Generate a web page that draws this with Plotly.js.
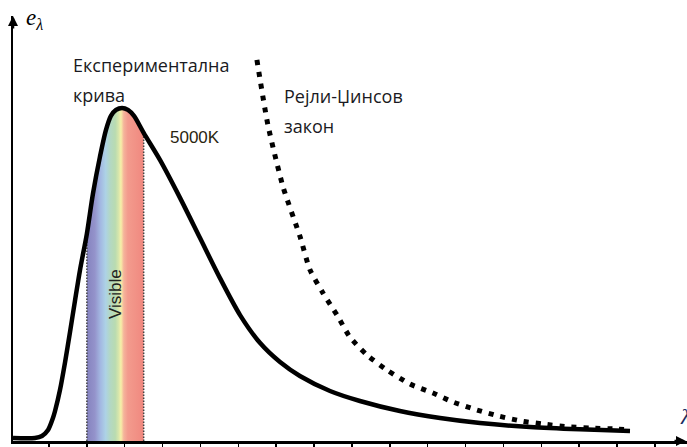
<!DOCTYPE html>
<html>
<head>
<meta charset="utf-8">
<script src="https://cdn.plot.ly/plotly-3.0.1.min.js"></script>
<style>html,body{margin:0;padding:0;background:#fff;}#chart{width:687px;height:447px;}</style>
</head>
<body>
<div id="chart"></div>
<script>
// Experimental curve (5000K), wavelength in nm, intensity relative to peak
const lamExp = [10, 126, 163, 195, 221, 232, 258, 285, 311, 337, 364, 400, 432, 469, 501, 527, 554, 586, 617, 649, 700, 786, 892, 997, 1103, 1209, 1315, 1420, 1525, 1684, 1842, 2053, 2265, 2476, 2740, 3003, 3268];
const eExp   = [0.009, 0.009, 0.015, 0.033, 0.069, 0.090, 0.153, 0.237, 0.327, 0.420, 0.514, 0.622, 0.742, 0.853, 0.934, 0.976, 0.994, 1.000, 0.994, 0.976, 0.925, 0.844, 0.730, 0.610, 0.489, 0.378, 0.294, 0.237, 0.195, 0.150, 0.120, 0.090, 0.069, 0.054, 0.042, 0.035, 0.030];
// Rayleigh-Jeans law
const lamRJ = [1298, 1356, 1436, 1526, 1578, 1647, 1721, 1789, 1879, 1985, 2106, 2228, 2333, 2460, 2581, 2703, 2809, 2935, 3057, 3199, 3268];
const eRJ   = [1.144, 0.949, 0.763, 0.613, 0.514, 0.444, 0.378, 0.312, 0.258, 0.213, 0.171, 0.144, 0.117, 0.093, 0.074, 0.059, 0.051, 0.043, 0.039, 0.036, 0.033];
// axis ticks and visible band
const ticks = [200, 400, 600, 800, 1000, 1200, 1400, 1600, 1800, 2000, 2200, 2400, 2600, 2800, 3000, 3200, 3400];
const visible = [400, 700];
const labels = {exp1: 'Експериментална', exp2: 'крива', rj1: 'Рејли-Џинсов', rj2: 'закон', temp: '5000K', vis: 'Visible'};

const bandX = [], bandY = [];
lamExp.forEach((l, i) => { if (l >= visible[0] && l <= visible[1]) { bandX.push(l); bandY.push(eExp[i]); } });
const e400 = eExp[lamExp.indexOf(visible[0])];
const e700 = eExp[lamExp.indexOf(visible[1])];

const traces = [
  {x: bandX, y: bandY, mode: 'lines', line: {width: 0, shape: 'spline', smoothing: 0.8}, fill: 'tozeroy',
   fillgradient: {type: 'horizontal', start: visible[0], stop: visible[1],
     colorscale: [[0, '#8583bf'], [0.14, '#9493cb'], [0.24, '#a3b8e2'], [0.33, '#add2e6'], [0.41, '#b3d8c4'], [0.5, '#b9dbb0'], [0.56, '#d8e6ac'], [0.6, '#f7f1a8'], [0.65, '#f5b49b'], [0.72, '#f39b8d'], [1, '#f0887f']]},
   hoverinfo: 'skip', showlegend: false},
  {x: [visible[0], visible[0]], y: [0, e400], mode: 'lines', line: {color: '#444', width: 1.5, dash: '1.5px,1.5px'}, showlegend: false},
  {x: [visible[1], visible[1]], y: [0, e700], mode: 'lines', line: {color: '#444', width: 1.5, dash: '1.5px,1.5px'}, showlegend: false},
  {x: lamRJ, y: eRJ, mode: 'lines', line: {color: '#000', width: 5, dash: '5px,7px', shape: 'spline', smoothing: 0.6}, showlegend: false},
  {x: lamExp, y: eExp, mode: 'lines', line: {color: '#000', width: 4.5, shape: 'spline', smoothing: 0.8}, showlegend: false}
];

const L = 13, R = 687, T = 16, B = 441;
const px = v => (v - L) / (R - L);
const py = v => (B - v) / (B - T);
const txtFont = {family: 'Open Sans, Liberation Sans, sans-serif', size: 18, color: '#1a1a22'};

const layout = {
  width: 687, height: 447,
  margin: {l: L, r: 687 - R, t: T, b: 447 - B, pad: 0},
  paper_bgcolor: '#fff', plot_bgcolor: '#fff',
  showlegend: false,
  xaxis: {range: [10, 3569], showgrid: false, zeroline: false, showline: true, linecolor: '#000', linewidth: 2.5,
          tickmode: 'array', tickvals: ticks, ticks: 'outside', ticklen: 6, tickwidth: 1.5, tickcolor: '#000', showticklabels: false, fixedrange: true},
  yaxis: {range: [0, 1.276], showgrid: false, zeroline: false, showline: true, linecolor: '#000', linewidth: 2.5,
          ticks: '', showticklabels: false, fixedrange: true},
  annotations: [
    {xref: 'paper', yref: 'paper', x: 1, y: 0, ax: -14, ay: 0, text: '', showarrow: true, arrowhead: 2, arrowsize: 0.8, arrowwidth: 2.5, arrowcolor: '#000'},
    {xref: 'paper', yref: 'paper', x: 0, y: 1, ax: 0, ay: 14, text: '', showarrow: true, arrowhead: 2, arrowsize: 0.8, arrowwidth: 2.5, arrowcolor: '#000'},
    {xref: 'paper', yref: 'paper', x: px(24), y: py(19), xanchor: 'left', yanchor: 'middle', showarrow: false,
     text: '<i>e</i><sub><i>λ</i></sub>', font: {family: 'Liberation Serif, serif', size: 23, color: '#000'}},
    {xref: 'paper', yref: 'paper', x: px(678), y: py(416), xanchor: 'left', yanchor: 'middle', showarrow: false,
     text: '<i>λ</i>', font: {family: 'Liberation Serif, serif', size: 22, color: '#1a2a60'}},
    {xref: 'paper', yref: 'paper', x: px(71), y: py(65), xanchor: 'left', yanchor: 'middle', showarrow: false, text: labels.exp1, font: txtFont},
    {xref: 'paper', yref: 'paper', x: px(71), y: py(95), xanchor: 'left', yanchor: 'middle', showarrow: false, text: labels.exp2, font: txtFont},
    {xref: 'paper', yref: 'paper', x: px(282), y: py(96), xanchor: 'left', yanchor: 'middle', showarrow: false, text: labels.rj1, font: txtFont},
    {xref: 'paper', yref: 'paper', x: px(282), y: py(126), xanchor: 'left', yanchor: 'middle', showarrow: false, text: labels.rj2, font: txtFont},
    {xref: 'paper', yref: 'paper', x: px(168), y: py(137), xanchor: 'left', yanchor: 'middle', showarrow: false, text: labels.temp,
     font: {family: 'Liberation Sans, Arial, sans-serif', size: 17, color: '#2a2510'}},
    {xref: 'paper', yref: 'paper', x: px(115), y: py(294), xanchor: 'center', yanchor: 'middle', showarrow: false, textangle: -90, text: labels.vis,
     font: {family: 'Liberation Sans, Arial, sans-serif', size: 17, color: '#222'}}
  ]
};

Plotly.newPlot('chart', traces, layout, {displayModeBar: false, staticPlot: true});
</script>
</body>
</html>
